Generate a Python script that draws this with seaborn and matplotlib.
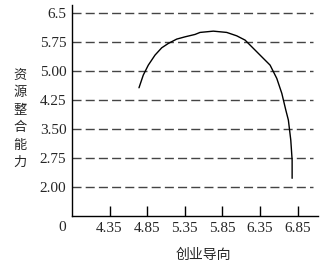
import numpy as np
import pandas as pd
import matplotlib
matplotlib.use("Agg")
import matplotlib.pyplot as plt
import seaborn as sns

# Data
x_ticks = [4.35, 4.85, 5.35, 5.85, 6.35, 6.85]
y_ticks = [2.00, 2.75, 3.50, 4.25, 5.00, 5.75, 6.5]
y_tick_labels = ["2.00", "2.75", "3.50", "4.25", "5.00", "5.75", "6.5"]
curve_x = [4.741, 4.798, 4.865, 4.954, 5.043, 5.131, 5.242, 5.353, 5.486,
           5.552, 5.729, 5.907, 6.040, 6.151, 6.284, 6.394, 6.483, 6.572,
           6.639, 6.692, 6.726, 6.758, 6.776, 6.776]
curve_y = [4.568, 4.897, 5.155, 5.414, 5.603, 5.716, 5.828, 5.887, 5.949,
           6.001, 6.034, 6.001, 5.913, 5.802, 5.543, 5.328, 5.155, 4.811,
           4.423, 3.991, 3.733, 3.216, 2.698, 2.225]
x_label = "创业导向"
y_label = "资源整合能力"

sns.set_theme(style="white")
plt.rcParams['font.family'] = ['Liberation Serif', 'Noto Sans CJK SC', 'DejaVu Sans']

# Axis scales: equally spaced ticks (0, then 4.35 step 0.5 / 0, then 2.00 step 0.75)
def xf(v):
    v = np.asarray(v, dtype=float)
    return np.where(v < 4.35, v / 4.35, 1 + (v - 4.35) / 0.5)

def xi(p):
    p = np.asarray(p, dtype=float)
    return np.where(p < 1, p * 4.35, 4.35 + (p - 1) * 0.5)

def yf(v):
    v = np.asarray(v, dtype=float)
    return np.where(v < 2.0, v / 2.0, 1 + (v - 2.0) / 0.75)

def yi(p):
    p = np.asarray(p, dtype=float)
    return np.where(p < 1, p * 2.0, 2.0 + (p - 1) * 0.75)

fig = plt.figure(figsize=(3.33, 2.65), dpi=100)
ax = fig.add_axes([0.216, 0.185, 0.739, 0.796])
ax.set_xscale('function', functions=(xf, xi))
ax.set_yscale('function', functions=(yf, yi))

df = pd.DataFrame({"x": curve_x, "y": curve_y})
for yv in y_ticks:
    ax.axhline(yv, xmin=0, xmax=0.98, color="#444444", lw=1.0,
               dashes=(6.5, 3.0), zorder=1)
sns.lineplot(data=df, x="x", y="y", sort=False, estimator=None,
             color="black", lw=1.0, ax=ax, zorder=3)

ax.set_xlim(0, 7.12)
ax.set_ylim(0, 6.71)
ax.set_xticks(x_ticks)
ax.set_xticklabels([f"{v:.2f}" for v in x_ticks])
ax.set_yticks(y_ticks)
ax.set_yticklabels(y_tick_labels)
ax.minorticks_off()
ax.tick_params(axis='x', direction='in', length=7, width=1, color='black',
               labelsize=11, pad=4, bottom=True)
ax.tick_params(axis='y', length=0, labelsize=11, pad=4, left=False)

for s in ['top', 'right']:
    ax.spines[s].set_visible(False)
for s in ['left', 'bottom']:
    ax.spines[s].set_color('black')
    ax.spines[s].set_linewidth(1.0)

ax.set_xlabel("")
ax.set_ylabel("")
ax.annotate("0", xy=(0, 0), xycoords='data', xytext=(-7, -8),
            textcoords='offset points', ha='center', va='center', fontsize=11)
fig.text(203 / 333, 1 - 255 / 265, x_label, ha='center', va='center',
         fontsize=10, family=['Noto Sans CJK SC'])
fig.text(20 / 333, 1 - 119 / 265, "\n".join(y_label), ha='center', va='center',
         fontsize=9.5, linespacing=1.45, family=['Noto Sans CJK SC'])

fig.savefig("out.png", dpi=100)
